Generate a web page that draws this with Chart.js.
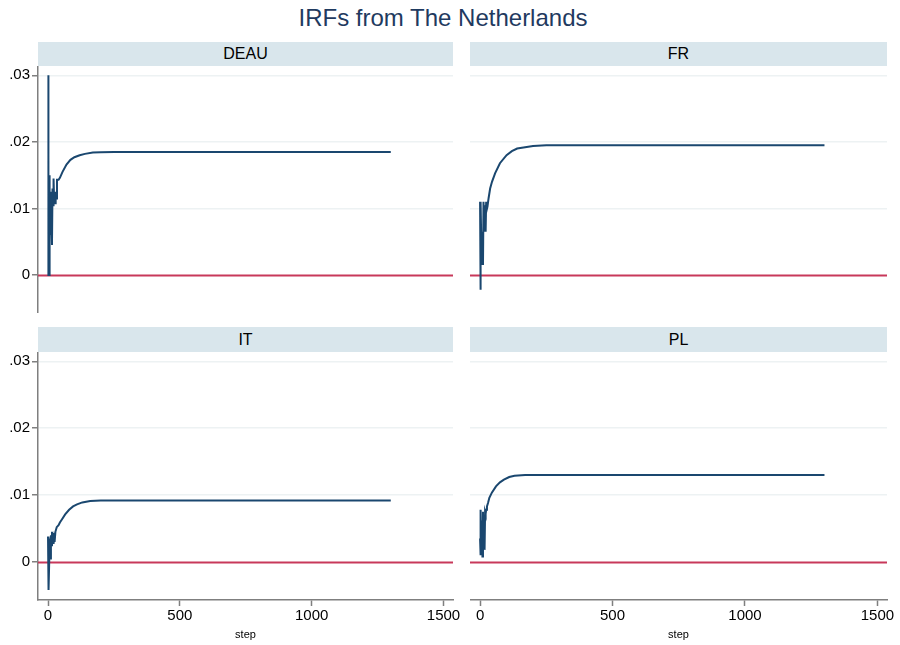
<!DOCTYPE html>
<html>
<head>
<meta charset="utf-8">
<script src="https://cdn.jsdelivr.net/npm/chart.js@4.4.0/dist/chart.umd.min.js"></script>
<style>
  html, body { margin: 0; padding: 0; background: #fff; }
  body { width: 900px; height: 645px; position: relative; overflow: hidden; font-family: "Liberation Sans", Arial, sans-serif; }
  #title { position: absolute; left: 0; top: 4px; width: 886px; line-height: 28px; text-align: center; font-size: 24px; color: #1f3a60; }
  .strip { position: absolute; background: #d9e6ec; font-size: 16px; color: #000; text-align: center; }
  canvas { position: absolute; }
</style>
</head>
<body>
<div id="title">IRFs from The Netherlands</div>

<div class="strip" style="left:38px;top:42px;width:415px;height:24px;line-height:24px">DEAU</div>
<div class="strip" style="left:470px;top:42px;width:417px;height:24px;line-height:24px">FR</div>
<div class="strip" style="left:38px;top:327px;width:415px;height:25px;line-height:25px">IT</div>
<div class="strip" style="left:470px;top:327px;width:417px;height:25px;line-height:25px">PL</div>

<canvas id="cDEAU" width="473" height="247" style="left:0;top:66px"></canvas>
<canvas id="cFR" width="430" height="247" style="left:470px;top:66px"></canvas>
<canvas id="cIT" width="473" height="293" style="left:0;top:352px"></canvas>
<canvas id="cPL" width="430" height="293" style="left:470px;top:352px"></canvas>

<script>
// IRF-Werte (step, Wert)
const deauSteps  = [0, 1, 2, 4, 5, 7, 9, 11, 13, 15, 17, 19, 21, 23, 25, 27, 29, 31, 34, 40, 45, 55, 70, 85, 100, 120, 140, 170, 200, 250, 1300];
const deauValues = [0, 0.030, 0, 0, 0.015, 0.005, 0.0125, 0.006, 0.010, 0.0045, 0.013, 0.0105, 0.0145, 0.0115, 0.0125, 0.0108, 0.0125, 0.0115, 0.0143, 0.0143, 0.0146, 0.0155, 0.0166, 0.0173, 0.0177, 0.0180, 0.0182, 0.0184, 0.01845, 0.0185, 0.0185];

const frSteps  = [0, 1, 3, 5, 7, 9, 11, 13, 15, 17, 19, 21, 23, 25, 28, 32, 38, 45, 57, 75, 100, 120, 140, 170, 200, 250, 1300];
const frValues = [0.011, -0.0022, 0.011, 0.004, 0.0015, 0.0065, 0.0015, 0.011, 0.0085, 0.0065, 0.0105, 0.0065, 0.011, 0.0098, 0.0103, 0.0115, 0.0130, 0.0140, 0.0153, 0.0168, 0.0180, 0.0186, 0.0190, 0.0192, 0.0194, 0.0195, 0.0195];

const itSteps  = [0, 1, 2, 3, 5, 7, 9, 11, 13, 15, 17, 19, 21, 23, 25, 28, 33, 40, 45, 55, 65, 80, 95, 110, 130, 160, 200, 250, 1300];
const itValues = [0.0038, -0.0018, 0.0037, -0.0042, 0.0008, 0.0035, 0.0005, 0.004, 0.0025, 0.0045, 0.003, 0.0043, 0.0027, 0.0035, 0.003, 0.0045, 0.0052, 0.0055, 0.0059, 0.0065, 0.0071, 0.0078, 0.0083, 0.0086, 0.0089, 0.0091, 0.0092, 0.0092, 0.0092];

const plSteps  = [0, 1, 2, 3, 5, 7, 9, 11, 13, 15, 17, 19, 21, 23, 26, 30, 35, 45, 60, 75, 90, 110, 130, 170, 220, 1300];
const plValues = [0.0035, 0.0065, 0.001, 0.0078, 0.0025, 0.0062, 0.0008, 0.0075, 0.002, 0.0062, 0.0018, 0.0075, 0.0072, 0.0078, 0.0083, 0.0088, 0.0096, 0.0104, 0.0113, 0.0119, 0.0123, 0.0127, 0.0129, 0.0130, 0.0130, 0.0130];

// Achsen
const xTicks = [0, 500, 1000, 1500];
const yTicks = [0, 0.01, 0.02, 0.03];
const yTickLabels = ["0", ".01", ".02", ".03"];
const xRange = [-38, 1536];
const yRange = [-0.0057, 0.0314];

const lineColor = "#1a476f";
const zeroColor = "#c8385a";
const axisColor = "#7f7f7f";
const gridColor = "#edf2f3";
const fontFamily = "'Liberation Sans', Arial, sans-serif";

// rote Nulllinie
const zeroLine = {
  id: "zeroLine",
  beforeDatasetsDraw(chart) {
    const { ctx, chartArea, scales } = chart;
    const y = Math.round(scales.y.getPixelForValue(0)) + 0.5;
    ctx.save();
    ctx.strokeStyle = zeroColor;
    ctx.lineWidth = 2;
    ctx.beginPath();
    ctx.moveTo(chartArea.left, y);
    ctx.lineTo(chartArea.right, y);
    ctx.stroke();
    ctx.restore();
  }
};

function makePanel(id, steps, values, showY, showX, padRight) {
  const points = steps.map((s, i) => ({ x: s, y: values[i] }));

  new Chart(document.getElementById(id), {
    type: "line",
    data: {
      datasets: [{
        data: points,
        borderColor: lineColor,
        borderWidth: 2,
        pointRadius: 0,
        tension: 0,
        fill: false
      }]
    },
    options: {
      responsive: false,
      animation: false,
      layout: { padding: { left: 0, right: padRight, top: 0, bottom: 0 } },
      plugins: { legend: { display: false }, tooltip: { enabled: false } },
      scales: {
        x: {
          type: "linear",
          min: xRange[0],
          max: xRange[1],
          display: showX,
          afterBuildTicks: s => { s.ticks = xTicks.map(v => ({ value: v })); },
          afterFit: s => { s.height = showX ? 45 : 0; s.paddingLeft = 0; s.paddingRight = 0; },
          grid: { drawOnChartArea: false, drawTicks: true, tickLength: 6, tickColor: axisColor, tickWidth: 1.5 },
          border: { display: true, color: axisColor, width: 1.5 },
          ticks: { color: "#000", font: { family: fontFamily, size: 15 }, padding: 1, maxRotation: 0, callback: v => String(v) },
          title: { display: true, text: "step", color: "#000", font: { family: fontFamily, size: 11 }, padding: { top: 0, bottom: 3 } }
        },
        y: {
          type: "linear",
          min: yRange[0],
          max: yRange[1],
          afterBuildTicks: s => { s.ticks = yTicks.map(v => ({ value: v })); },
          afterFit: s => { s.width = showY ? 38 : 0; s.paddingTop = 0; s.paddingBottom = 0; },
          grid: {
            color: ctx => (ctx.tick && ctx.tick.value === 0) ? "rgba(0,0,0,0)" : gridColor,
            lineWidth: 1.5,
            drawTicks: showY,
            tickLength: 6,
            tickColor: axisColor,
            tickWidth: 1.5
          },
          border: { display: showY, color: axisColor, width: 1.5 },
          ticks: {
            display: showY,
            color: "#000",
            font: { family: fontFamily, size: 15 },
            padding: 2,
            callback: v => yTickLabels[yTicks.indexOf(v)]
          }
        }
      }
    },
    plugins: [zeroLine]
  });
}

makePanel("cDEAU", deauSteps, deauValues, true, false, 20);
makePanel("cFR", frSteps, frValues, false, false, 13);
makePanel("cIT", itSteps, itValues, true, true, 20);
makePanel("cPL", plSteps, plValues, false, true, 13);
</script>
</body>
</html>
